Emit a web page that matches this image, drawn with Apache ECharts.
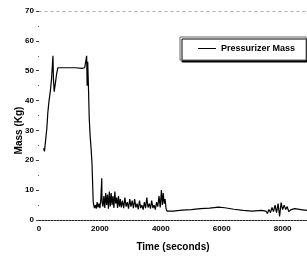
<!DOCTYPE html>
<html>
<head>
<meta charset="utf-8">
<script src="https://cdn.jsdelivr.net/npm/echarts@6/dist/echarts.min.js"></script>
<style>
html, body { margin: 0; padding: 0; background: #fff; }
#chart { width: 307px; height: 262px; }
</style>
</head>
<body>
<div id="chart"></div>
<script>
// pressurizer mass
const seriesName = 'Pressurizer Mass';
const times = [
    150, 180, 230, 260, 290, 330, 370, 410, 440, 458, 475, 500, 540, 580, 620, 680,
    800, 1000, 1200, 1400, 1500, 1540, 1565, 1580, 1600, 1620, 1650, 1680, 1710, 1740, 1780,
    1820, 1850, 1880, 1910, 1940, 1970, 2000, 2030, 2060, 2070, 2100, 2130, 2160, 2190, 2220,
    2250, 2280, 2310, 2340, 2370, 2400, 2430, 2460, 2490, 2520, 2550, 2580, 2610, 2640, 2670,
    2700, 2740, 2780, 2820, 2860, 2900, 2940, 2980, 3020, 3060, 3100, 3140, 3180, 3220, 3260,
    3300, 3340, 3380, 3420, 3460, 3500, 3540, 3580, 3620, 3660, 3700, 3740, 3780, 3820, 3860,
    3900, 3940, 3980, 4020, 4050, 4080, 4110, 4140, 4170, 4200, 4240,
    4400, 4700, 5000, 5300, 5600, 5900, 6100, 6400, 6700, 7000, 7300, 7450,
    7500, 7550, 7600, 7650, 7700, 7750, 7800, 7850, 7900, 7950, 8000, 8050, 8100, 8150, 8200,
    8280, 8400, 8600, 8800
];
const masses = [
    24, 23, 28, 31, 36, 40, 43, 47, 52, 55, 47, 43, 46, 49, 51, 51.5,
    51, 51, 51, 50.8, 51, 51.5, 55, 45, 53, 46, 34, 28, 24, 19, 6,
    4, 5, 3.8, 6, 4.2, 5.5, 4, 7, 14, 6, 4.5, 8, 4, 9, 5,
    8.5, 3.8, 9.5, 4.5, 9, 5, 8, 4, 9.5, 5.5, 7.5, 4, 8, 4.5, 7,
    4.2, 6.5, 4, 7.5, 4.5, 6, 3.8, 7, 4.5, 6.5, 4, 7, 4.2, 5.5, 3.6,
    6.5, 4, 5, 3.5, 6, 4, 7.5, 4.2, 5.5, 3.8, 6.5, 4, 5, 3.5, 6,
    4.5, 8, 4.2, 10, 5, 9, 5.5, 7, 4, 3, 2.8,
    3.0, 3.3, 3.5, 3.8, 4.0, 4.3, 4.1, 3.6, 3.2, 3.0, 3.2, 3.0,
    2.2, 3.5, 2.5, 4.2, 2.8, 5, 2.5, 5.5, 1.2, 5.8, 3.5, 5, 3.5, 4.5, 2.8,
    3.5, 3.8, 3.5, 3.2
];
const xTicks = [0, 2000, 4000, 6000, 8000];
const yTicks = [0, 10, 20, 30, 40, 50, 60, 70];

const points = times.map((t, i) => [t, masses[i]]);
const fontFam = '"Liberation Sans", Arial, sans-serif';

const chart = echarts.init(document.getElementById('chart'));
chart.setOption({
    animation: false,
    backgroundColor: '#fff',
    grid: { left: 39, right: 0, top: 11, bottom: 42 },
    legend: {
        left: 180,
        top: 37,
        padding: [6, 11, 6, 18],
        itemWidth: 18,
        itemHeight: 1,
        itemGap: 4,
        icon: 'rect',
        backgroundColor: '#fff',
        borderColor: '#666',
        borderWidth: 1,
        shadowColor: '#000',
        shadowBlur: 0,
        shadowOffsetX: 2,
        shadowOffsetY: 2,
        textStyle: { color: '#000', fontSize: 9, fontWeight: 'bold', fontFamily: fontFam, lineHeight: 11 },
        data: [seriesName]
    },
    xAxis: [{
        type: 'value',
        min: 0,
        max: 8800,
        interval: 2000,
        name: 'Time (seconds)',
        nameLocation: 'middle',
        nameGap: 22,
        nameMoveOverlap: false,
        nameTextStyle: { color: '#000', fontSize: 10, fontWeight: 'bold', fontFamily: fontFam },
        axisLine: { show: true, lineStyle: { color: '#222', width: 1, type: [2, 1] } },
        axisTick: { show: false },
        splitLine: { show: false },
        axisLabel: {
            color: '#000', fontSize: 8, fontWeight: 'bold', fontFamily: fontFam, margin: 5,
            showMaxLabel: false,
            formatter: v => xTicks.includes(v) ? String(v) : ''
        }
    }, {
        type: 'value',
        position: 'top',
        min: 0,
        max: 8800,
        axisLine: { show: true, lineStyle: { color: '#aaa', width: 1, type: [2, 4] } },
        axisTick: { show: false },
        axisLabel: { show: false },
        splitLine: { show: false }
    }],
    yAxis: {
        type: 'value',
        min: 0,
        max: 70,
        interval: 10,
        name: 'Mass (Kg)',
        nameLocation: 'middle',
        nameGap: 15,
        nameMoveOverlap: false,
        nameTextStyle: {
            color: '#000', fontSize: 10, fontWeight: 'bold', fontFamily: fontFam,
            padding: [0, 30, 0, 0]
        },
        axisLine: { show: false },
        axisTick: { show: true, length: 3, lineStyle: { color: '#444' } },
        minorTick: { show: true, splitNumber: 2, length: 1, lineStyle: { color: '#666' } },
        splitLine: { show: false },
        axisLabel: {
            color: '#000', fontSize: 8, fontWeight: 'bold', fontFamily: fontFam, margin: 5,
            formatter: v => yTicks.includes(v) ? String(v) : ''
        }
    },
    series: [{
        name: seriesName,
        type: 'line',
        symbol: 'none',
        data: points,
        lineStyle: { color: '#000', width: 1.2 },
        itemStyle: { color: '#000' }
    }]
});
</script>
</body>
</html>
